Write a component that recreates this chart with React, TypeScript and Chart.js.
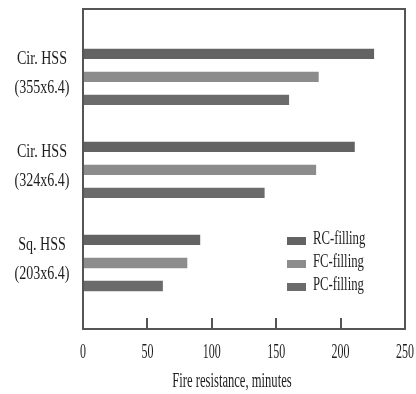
import { useEffect, useRef } from "react";
import { Chart, registerables } from "chart.js";

Chart.register(...registerables);

const categories: string[][] = [
  ["Cir. HSS", "(355x6.4)"],
  ["Cir. HSS", "(324x6.4)"],
  ["Sq. HSS", "(203x6.4)"],
];
const seriesNames = ["RC-filling", "FC-filling", "PC-filling"];
const rcValues = [226, 211, 91];
const fcValues = [183, 181, 81];
const pcValues = [160, 141, 62];
const xTicks = [0, 50, 100, 150, 200, 250];
const xTitle = "Fire resistance, minutes";
const seriesColors = ["#636363", "#8c8c8c", "#6b6b6b"];

const SERIF = '"Liberation Serif", "Times New Roman", serif';

const overlayPlugin = {
  id: "overlay",
  afterDraw(chart: any) {
    const ctx: CanvasRenderingContext2D = chart.ctx;
    const { left, right, top, bottom } = chart.chartArea;
    const xs = chart.scales.x;
    const ys = chart.scales.y;
    ctx.save();
    // frame
    ctx.strokeStyle = "#555555";
    ctx.lineWidth = 2;
    ctx.strokeRect(left, top, right - left, bottom - top);
    // inward tick marks on the value axis
    ctx.beginPath();
    xTicks.forEach((v) => {
      const px = Math.round(xs.getPixelForValue(v));
      ctx.moveTo(px, bottom);
      ctx.lineTo(px, bottom - 11);
    });
    ctx.stroke();

    const txt = (s: string, x: number, y: number, align: CanvasTextAlign, size: number, squash: number) => {
      ctx.save();
      ctx.font = `${size}px ${SERIF}`;
      ctx.translate(x, y);
      ctx.scale(squash, 1);
      ctx.textAlign = align;
      ctx.textBaseline = "middle";
      ctx.fillText(s, 0, 0);
      ctx.restore();
    };
    ctx.fillStyle = "#1e1e1e";
    xTicks.forEach((v) => txt(String(v), xs.getPixelForValue(v), bottom + 23, "center", 21, 0.57));
    txt(xTitle, 232, bottom + 53, "center", 20, 0.63);
    categories.forEach((lines, i) => {
      const cy = ys.getPixelForValue(i);
      txt(lines[0], 42, cy - 18, "center", 19, 0.74);
      txt(lines[1], 42, cy + 11, "center", 19, 0.74);
    });
    // legend (inside plot, lower right)
    chart.data.datasets.forEach((ds: any, i: number) => {
      const ry = 241 + i * 23;
      ctx.fillStyle = ds.backgroundColor;
      ctx.fillRect(287, ry - 4, 19, 8);
      ctx.fillStyle = "#1e1e1e";
      txt(ds.label, 313, ry - 2, "left", 19, 0.67);
    });
    ctx.restore();
  },
};

export default function App() {
  const ref = useRef<HTMLCanvasElement>(null);
  useEffect(() => {
    if (!ref.current) return;
    const series = [rcValues, fcValues, pcValues];
    const chart = new Chart(ref.current, {
      type: "bar",
      data: {
        datasets: series.map((vals, si) => ({
          label: seriesNames[si],
          data: vals.map((v, i) => ({ x: v, y: i })),
          backgroundColor: seriesColors[si],
          borderWidth: 0,
          categoryPercentage: 0.742,
          barPercentage: 0.45,
        })),
      },
      options: {
        animation: false,
        responsive: false,
        indexAxis: "y",
        layout: { padding: { left: 83, top: 9, right: 11, bottom: 65 } },
        plugins: { legend: { display: false }, tooltip: { enabled: false } },
        scales: {
          x: { type: "linear", display: false, min: 0, max: 250 },
          y: {
            type: "linear",
            display: false,
            reverse: true,
            offset: false,
            grace: 0,
            bounds: "data",
            min: -0.73,
            max: 2.71,
            afterBuildTicks: (s: any) => {
              s.ticks = categories.map((_, i) => ({ value: i }));
            },
          },
        },
      },
      plugins: [overlayPlugin],
    } as any);
    return () => chart.destroy();
  }, []);
  return (
    <div style={{ position: "fixed", left: 0, top: 0, width: 416, height: 394, background: "#fff" }}>
      <canvas ref={ref} width={416} height={394} style={{ display: "block" }} />
    </div>
  );
}
